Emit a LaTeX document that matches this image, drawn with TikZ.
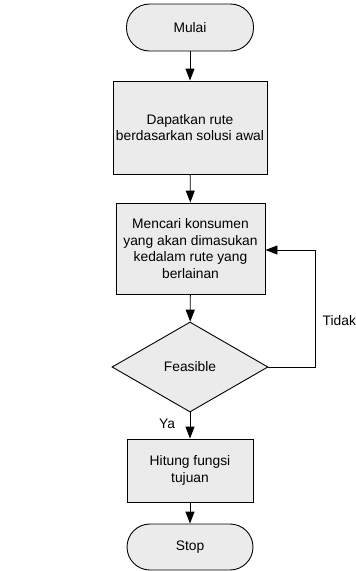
\documentclass[tikz,border=0pt]{standalone}
\usepackage{fontspec}
\setmainfont{Liberation Sans}
\usetikzlibrary{arrows.meta,shapes.geometric}
\definecolor{boxfill}{HTML}{EBEBEB}
\tikzset{
  base/.style={draw=black, line width=0.9pt, fill=boxfill, align=center,
    font=\fontsize{13.8}{16.5}\selectfont, inner sep=0pt},
  terminal/.style={base, rectangle, rounded corners=23pt, minimum width=127pt, minimum height=47pt},
  process/.style={base, rectangle},
  decision/.style={base, diamond, minimum width=156pt, minimum height=90pt},
  flow/.style={draw=black, line width=0.9pt, -{Triangle[length=12pt,width=9pt]}},
  lbl/.style={font=\fontsize{13.8}{16.5}\selectfont, inner sep=0pt}
}
\begin{document}
\begin{tikzpicture}[x=1pt,y=-1pt]
  \useasboundingbox (0,0) rectangle (356,571);
  \node[terminal] (start) at (190,27.5) {Mulai};
  \node[process, minimum width=154pt, minimum height=93pt] (route) at (190,127.5)
    {Dapatkan rute\\berdasarkan solusi awal};
  \node[process, minimum width=149pt, minimum height=91pt] (search) at (190.5,248.5)
    {Mencari konsumen\\yang akan dimasukan\\kedalam rute yang\\berlainan};
  \node[decision] (feas) at (190,367) {Feasible};
  \node[process, minimum width=126pt, minimum height=63pt] (obj) at (190,470.5)
    {Hitung fungsi\\tujuan};
  \node[terminal, minimum width=126pt, minimum height=46pt] (stop) at (190,547) {Stop};

  \coordinate (loopB) at (315,367);
  \coordinate (loopT) at (315,250);

  \draw[flow] (start) -- (route);
  \draw[flow] (route) -- (search);
  \draw[flow] (search) -- (feas);
  \draw[flow] (feas) -- (obj);
  \draw[flow] (obj) -- (stop);
  \draw[flow] (feas.east) -- (loopB) -- (loopT) -- (search.east |- loopT);

  \node[lbl] (ya) at (167,424) {Ya};
  \node[lbl, anchor=west] (tidak) at (322.5,321) {Tidak};
\end{tikzpicture}
\end{document}
